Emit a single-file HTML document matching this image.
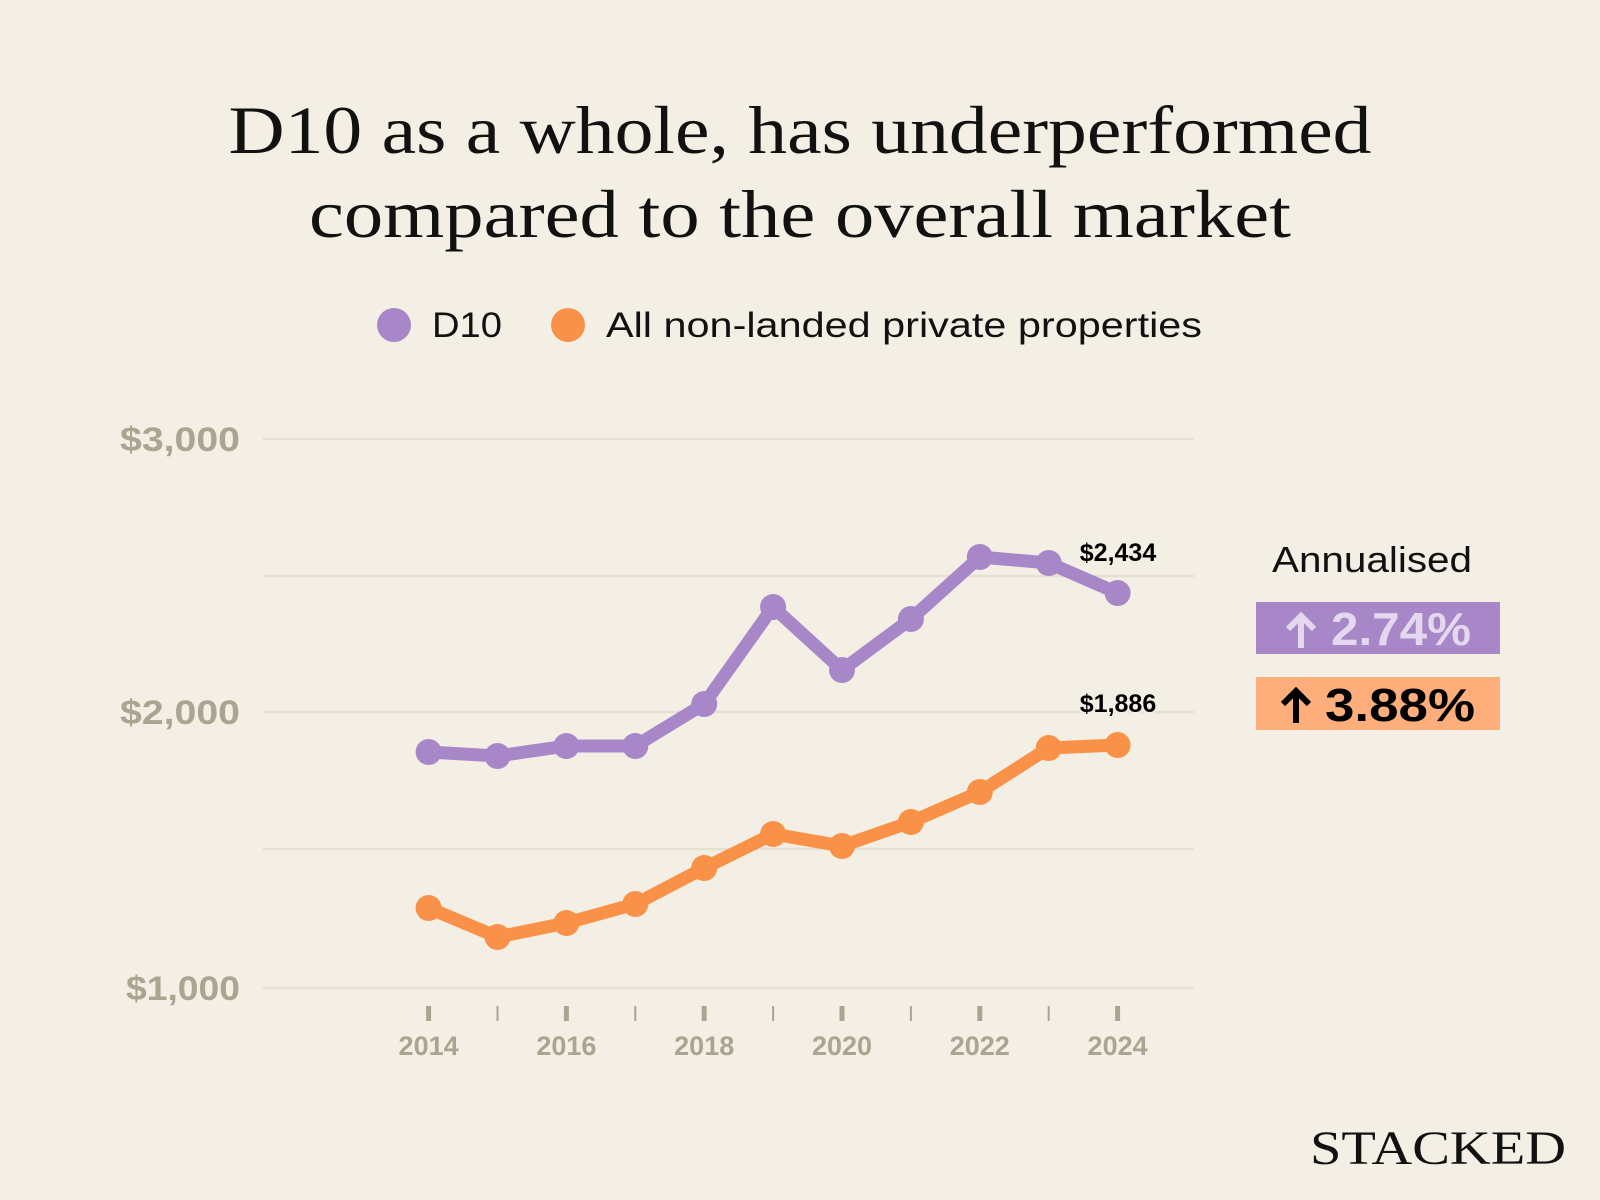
<!DOCTYPE html>
<html><head><meta charset="utf-8"><style>
html,body{margin:0;padding:0;background:#f4efe4;}
svg{display:block}
</style></head><body>
<svg width="1600" height="1200" viewBox="0 0 1600 1200" xmlns="http://www.w3.org/2000/svg">
<rect width="1600" height="1200" fill="#f4efe4"/>
<g font-family="Liberation Serif, serif" fill="#111" font-size="68">
<text x="800" y="153" text-anchor="middle" textLength="1143" lengthAdjust="spacingAndGlyphs">D10 as a whole, has underperformed</text>
<text x="800" y="237" text-anchor="middle" textLength="982" lengthAdjust="spacingAndGlyphs">compared to the overall market</text>
</g>
<circle cx="394" cy="325" r="17" fill="#a887c8"/>
<circle cx="568" cy="325" r="17" fill="#fa9148"/>
<g font-family="Liberation Sans, sans-serif" font-size="35" fill="#111">
<text x="432" y="337" textLength="70" lengthAdjust="spacingAndGlyphs">D10</text>
<text x="606" y="337" textLength="596" lengthAdjust="spacingAndGlyphs">All non-landed private properties</text>
</g>
<g stroke="#e6e0d2" stroke-width="2.5">
<line x1="263" y1="439" x2="1194" y2="439"/>
<line x1="263" y1="576" x2="1194" y2="576"/>
<line x1="263" y1="712" x2="1194" y2="712"/>
<line x1="263" y1="849" x2="1194" y2="849"/>
<line x1="263" y1="988" x2="1194" y2="988"/>
</g>
<g font-family="Liberation Sans, sans-serif" font-weight="bold" font-size="34" fill="#aaa490" text-anchor="end">
<text x="240" y="451" textLength="120" lengthAdjust="spacingAndGlyphs">$3,000</text>
<text x="240" y="724" textLength="120" lengthAdjust="spacingAndGlyphs">$2,000</text>
<text x="240" y="1000" textLength="114" lengthAdjust="spacingAndGlyphs">$1,000</text>
</g>
<g stroke="#aaa490">
<g stroke-width="5"><line x1="428.6" y1="1006" x2="428.6" y2="1021"/><line x1="566.4" y1="1006" x2="566.4" y2="1021"/><line x1="704.2" y1="1006" x2="704.2" y2="1021"/><line x1="842" y1="1006" x2="842" y2="1021"/><line x1="979.8" y1="1006" x2="979.8" y2="1021"/><line x1="1117.6" y1="1006" x2="1117.6" y2="1021"/></g>
<g stroke-width="2"><line x1="497.5" y1="1006" x2="497.5" y2="1021"/><line x1="635.3" y1="1006" x2="635.3" y2="1021"/><line x1="773.1" y1="1006" x2="773.1" y2="1021"/><line x1="910.9" y1="1006" x2="910.9" y2="1021"/><line x1="1048.7" y1="1006" x2="1048.7" y2="1021"/></g>
</g>
<g font-family="Liberation Sans, sans-serif" font-weight="bold" font-size="27" fill="#aaa490" text-anchor="middle">
<text x="428.6" y="1055">2014</text><text x="566.4" y="1055">2016</text><text x="704.2" y="1055">2018</text><text x="842" y="1055">2020</text><text x="979.8" y="1055">2022</text><text x="1117.6" y="1055">2024</text>
</g>
<polyline fill="none" stroke="#a887c8" stroke-width="13" stroke-linejoin="round" points="428.6,752 497.5,756 566.4,746 635.3,746 704.2,704 773.1,607 842,670 910.9,619 979.8,557 1048.7,563 1117.6,593"/>
<g fill="#a887c8"><circle cx="428.6" cy="752" r="13"/><circle cx="497.5" cy="756" r="13"/><circle cx="566.4" cy="746" r="13"/><circle cx="635.3" cy="746" r="13"/><circle cx="704.2" cy="704" r="13"/><circle cx="773.1" cy="607" r="13"/><circle cx="842" cy="670" r="13"/><circle cx="910.9" cy="619" r="13"/><circle cx="979.8" cy="557" r="13"/><circle cx="1048.7" cy="563" r="13"/><circle cx="1117.6" cy="593" r="13"/></g>
<polyline fill="none" stroke="#fa9148" stroke-width="13" stroke-linejoin="round" points="428.6,908 497.5,937 566.4,923 635.3,904 704.2,868 773.1,834 842,846 910.9,822 979.8,792 1048.7,748 1117.6,745"/>
<g fill="#fa9148"><circle cx="428.6" cy="908" r="13"/><circle cx="497.5" cy="937" r="13"/><circle cx="566.4" cy="923" r="13"/><circle cx="635.3" cy="904" r="13"/><circle cx="704.2" cy="868" r="13"/><circle cx="773.1" cy="834" r="13"/><circle cx="842" cy="846" r="13"/><circle cx="910.9" cy="822" r="13"/><circle cx="979.8" cy="792" r="13"/><circle cx="1048.7" cy="748" r="13"/><circle cx="1117.6" cy="745" r="13"/></g>
<g font-family="Liberation Sans, sans-serif" font-weight="bold" font-size="25" fill="#000" text-anchor="middle" stroke="#f4efe4" stroke-width="4" paint-order="stroke">
<text x="1118" y="561">$2,434</text>
<text x="1118" y="712">$1,886</text>
</g>
<text x="1372" y="572" text-anchor="middle" font-family="Liberation Sans, sans-serif" font-size="36" fill="#111" textLength="200" lengthAdjust="spacingAndGlyphs">Annualised</text>
<rect x="1256" y="602" width="244" height="52" fill="#a887c8"/>
<rect x="1256" y="677" width="244" height="53" fill="#fdae7b"/>
<g fill="none" stroke-width="6" stroke-linecap="butt" stroke-linejoin="miter">
<path d="M1301 617 V648 M1288 629 L1301 616 L1314 629" stroke="#e4d8ee"/>
<path d="M1296 692 V723 M1283 704 L1296 691 L1309 704" stroke="#000"/>
</g>
<g font-family="Liberation Sans, sans-serif" font-weight="bold" font-size="46">
<text x="1331" y="645" fill="#e4d8ee" textLength="140" lengthAdjust="spacingAndGlyphs">2.74%</text>
<text x="1325" y="721" fill="#000" textLength="150" lengthAdjust="spacingAndGlyphs">3.88%</text>
</g>
<text x="1438" y="1164" text-anchor="middle" font-family="Liberation Serif, serif" font-size="48" fill="#111" textLength="256" lengthAdjust="spacingAndGlyphs">STACKED</text>
</svg>
</body></html>
